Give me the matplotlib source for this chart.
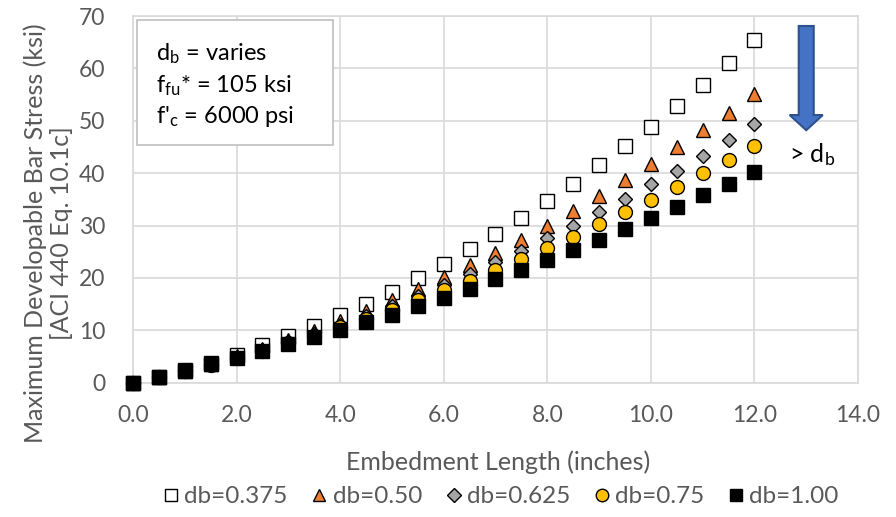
import matplotlib.pyplot as plt
from matplotlib.patches import FancyArrow, Rectangle

plt.rcParams['font.family'] = ['Lato', 'DejaVu Sans']

# embedment length (in)
embed_len = [0.0, 0.5, 1.0, 1.5, 2.0, 2.5, 3.0, 3.5, 4.0, 4.5, 5.0, 5.5, 6.0,
             6.5, 7.0, 7.5, 8.0, 8.5, 9.0, 9.5, 10.0, 10.5, 11.0, 11.5, 12.0]

# max developable bar stress (ksi), one list per bar diameter
stress_0375 = [0.0, 1.1, 2.4, 3.7, 5.3, 7.1, 8.9, 10.8, 12.9, 15.0, 17.4, 19.9, 22.6,
               25.5, 28.3, 31.4, 34.7, 38.0, 41.5, 45.2, 48.9, 52.8, 56.8, 61.1, 65.4]
stress_050 = [0.0, 1.1, 2.3, 3.6, 5.0, 6.5, 8.1, 9.9, 11.7, 13.6, 15.7, 17.9, 20.1,
              22.4, 24.7, 27.2, 30.0, 32.8, 35.6, 38.7, 41.7, 44.9, 48.2, 51.5, 55.1]
stress_0625 = [0.0, 1.1, 2.2, 3.5, 4.8, 6.2, 7.8, 9.3, 11.0, 12.8, 14.6, 16.6, 18.6,
               20.7, 23.1, 25.2, 27.7, 30.0, 32.5, 35.1, 37.9, 40.5, 43.3, 46.3, 49.3]
stress_075 = [0.0, 1.1, 2.2, 3.4, 4.7, 6.1, 7.5, 9.0, 10.6, 12.2, 13.9, 15.7, 17.6,
              19.5, 21.6, 23.7, 25.8, 27.9, 30.2, 32.5, 34.9, 37.3, 40.0, 42.6, 45.2]
stress_100 = [0.0, 1.0, 2.2, 3.5, 4.7, 6.1, 7.3, 8.7, 10.1, 11.5, 13.0, 14.6, 16.2,
              17.9, 19.7, 21.5, 23.4, 25.3, 27.3, 29.3, 31.4, 33.6, 35.8, 37.9, 40.2]

series_labels = ['db=0.375', 'db=0.50', 'db=0.625', 'db=0.75', 'db=1.00']
x_ticks = [0, 2, 4, 6, 8, 10, 12, 14]
y_ticks = [0, 10, 20, 30, 40, 50, 60, 70]

grey_txt = '#595959'
grid_col = '#d9d9d9'

fig = plt.figure(figsize=(8.96, 5.17), dpi=100)
ax = fig.add_axes([0.1484, 0.2598, 0.8092, 0.7092])

styles = [
    dict(marker='s', mfc='white', ms=10),
    dict(marker='^', mfc='#ED7D31', ms=10),
    dict(marker='D', mfc='#A5A5A5', ms=7.5),
    dict(marker='o', mfc='#FFC000', ms=10),
    dict(marker='s', mfc='black', ms=10),
]
all_series = [stress_0375, stress_050, stress_0625, stress_075, stress_100]
for vals, lab, st in zip(all_series, series_labels, styles):
    ax.plot(embed_len, vals, linestyle='none', marker=st['marker'], mfc=st['mfc'],
            mec='black', mew=1.0, ms=st['ms'], label=lab, clip_on=False, zorder=3)

ax.set_xlim(0, 14)
ax.set_ylim(0, 70)
ax.set_xticks(x_ticks)
ax.set_xticklabels([f'{t:.1f}' for t in x_ticks])
ax.set_yticks(y_ticks)
ax.grid(True, color=grid_col, linewidth=1.2)
ax.set_axisbelow(True)
for sp in ax.spines.values():
    sp.set_color(grid_col)
    sp.set_linewidth(1.2)
ax.tick_params(length=0, labelsize=16.5, colors=grey_txt)
ax.tick_params(axis='x', pad=16)
ax.tick_params(axis='y', pad=20)

fig.text(498 / 896, 1 - 462 / 517, 'Embedment Length (inches)', fontsize=18,
         color=grey_txt, ha='center', va='center')
fig.text(48 / 896, 1 - 233 / 517,
         'Maximum Developable Bar Stress (ksi)\n[ACI 440 Eq. 10.1c]',
         fontsize=18, color=grey_txt, ha='center', va='center', rotation=90,
         linespacing=1.15, multialignment='center')

# parameter box
ax.add_patch(Rectangle((0.077, 45.4), 3.78, 23.8, fc='white', ec='#bfbfbf',
                       lw=1.2, zorder=4, clip_on=False))
box_lines = ['$\\mathregular{d_b}$ = varies',
             '$\\mathregular{f_{fu}}$* = 105 ksi',
             "f'$\\mathregular{_c}$ = 6000 psi"]
for txt, yb in zip(box_lines, [61.6, 55.5, 49.6]):
    ax.text(0.44, yb, txt, fontsize=17, va='baseline', ha='left', zorder=5)

# arrow showing increasing bar diameter
ax.add_patch(FancyArrow(13.0, 68.1, 0, -19.9, width=0.29, head_width=0.64,
                        head_length=2.9, length_includes_head=True,
                        fc='#4472C4', ec='#2F528F', lw=1.5, zorder=4))
ax.text(12.67, 42.1, '> $\\mathregular{d_b}$', fontsize=18, va='baseline', ha='left')

fig.legend(loc='center', bbox_to_anchor=(0.558, 0.039), ncol=5, frameon=False,
           fontsize=17.5, labelcolor=grey_txt, handletextpad=0.15, columnspacing=0.9,
           markerscale=0.9, handlelength=0.8)

fig.savefig('out.png', dpi=100)
